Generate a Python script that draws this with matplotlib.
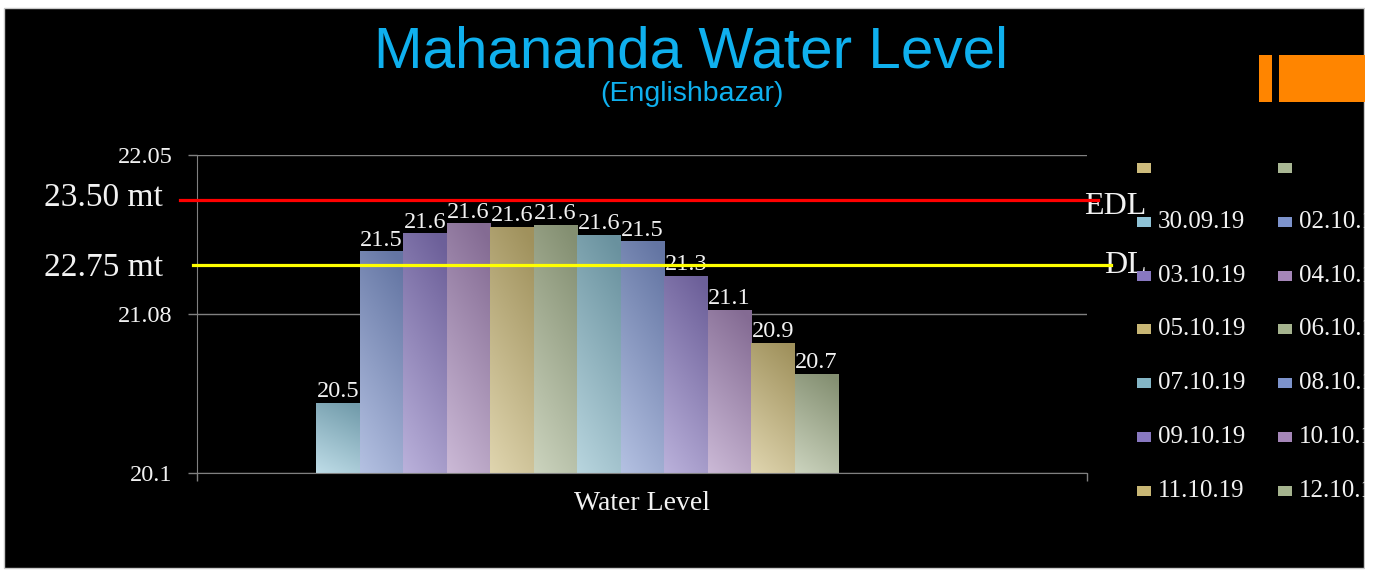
import numpy as np
import matplotlib
matplotlib.use('Agg')
import matplotlib.pyplot as plt
from matplotlib.patches import Rectangle
from matplotlib.colors import to_rgb

W, H = 1382, 577

# data
dates = ['30.09.19', '02.10.19', '03.10.19', '04.10.19', '05.10.19', '06.10.19',
         '07.10.19', '08.10.19', '09.10.19', '10.10.19', '11.10.19', '12.10.19']
levels = [20.53, 21.46, 21.57, 21.63, 21.61, 21.62, 21.56, 21.52, 21.31, 21.10, 20.90, 20.71]
bar_colors = ['#8fc3d6', '#7d93cc', '#8878c0', '#a586b8', '#c8b674', '#a5b38e',
              '#84b6c6', '#7d93cc', '#8878c0', '#a586b8', '#c8b674', '#a5b38e']
extra_labels = ['', '']  # two unnamed series at the top of the legend
extra_colors = ['#cdbb7c', '#a9b794']
y_ticks = [20.1, 21.075, 22.05]
y_tick_labels = ['20.1', '21.08', '22.05']
ref_labels = ['23.50 mt', '22.75 mt']
ref_tags = ['EDL', 'DL']
ref_colors = ['#ff0000', '#ffff00']
ref_y = [21.775, 21.375]  # where the marker lines sit on the chart scale

serif = 'Liberation Serif'
txt = '#f2f2f2'

def fx(x):
    return x / W

def fy(y):
    return 1 - y / H

fig = plt.figure(figsize=(W / 100, H / 100), dpi=100, facecolor='white')
fig.add_artist(Rectangle((fx(4), fy(568)), fx(1364) - fx(4), fy(8) - fy(568),
                         transform=fig.transFigure, facecolor='black',
                         edgecolor='#c8c8c8', lw=1, zorder=-5))

ax = fig.add_axes([fx(197), fy(473), fx(1087) - fx(197), fy(155) - fy(473)])
ax.set_facecolor('none')

x = np.arange(len(levels))
bars = ax.bar(x, levels, width=1.0, color=bar_colors, zorder=2)

# soft gradient on each bar (darker top, lighter bottom)
vv, hh = np.mgrid[0:1:60j, 0:1:20j]
s = np.clip(0.8 * vv + 0.25 * (1 - hh) - 0.05, 0, 1)
for b, c, v in zip(bars, bar_colors, levels):
    c = np.array(to_rgb(c))
    dark = c * 0.8
    light = c + (1 - c) * 0.42
    img = dark[None, None, :] * (1 - s[..., None]) + light[None, None, :] * s[..., None]
    im = ax.imshow(img, extent=(b.get_x(), b.get_x() + b.get_width(), 20.1, v),
                   aspect='auto', origin='upper', interpolation='bilinear', zorder=2.1)
    im.set_clip_path(b)

ax.set_xlim(-3.24, 17.22)
ax.set_ylim(20.1, 22.05)

for xi, v in zip(x, levels):
    ax.annotate('%.1f' % v, (xi, v), xytext=(0, 0.5), textcoords='offset points',
                ha='center', va='bottom', fontsize=17.5, color=txt, family=serif, zorder=4)

ax.set_yticks(y_ticks)
ax.set_yticklabels(y_tick_labels)
ax.set_xticks(list(ax.get_xlim()))
ax.set_xticklabels(['', ''])
ax.tick_params(axis='y', colors='#808080', labelcolor=txt, labelsize=17.5, length=6.5, width=1, pad=11)
ax.tick_params(axis='x', colors='#808080', length=6, width=1)
for lab in ax.get_yticklabels():
    lab.set_family(serif)
ax.grid(axis='y', color='#808080', lw=1, zorder=0)
for side in ['top', 'right']:
    ax.spines[side].set_visible(False)
for side in ['left', 'bottom']:
    ax.spines[side].set_color('#808080')
ax.set_axisbelow(True)

ax.text(0.5, -0.095, 'Water Level', transform=ax.transAxes, ha='center', va='center',
        fontsize=20, color=txt, family=serif)

# danger level lines
line_ext = [(-0.019, 1.0124), (-0.0045, 1.027)]
label_dy = [1.5, -2]
tag_pos = [(0.997, -5), (1.019, 0)]
for lab, tag, c, ry, (x0, x1), dy, (tx, tdy) in zip(ref_labels, ref_tags, ref_colors, ref_y,
                                                    line_ext, label_dy, tag_pos):
    ax.axhline(ry, x0, x1, color=c, lw=2.3, clip_on=False, zorder=5)
    ax.annotate(lab, (-0.038, ry), xycoords=ax.get_yaxis_transform(), xytext=(0, dy),
                textcoords='offset points', ha='right', va='center', fontsize=24,
                color=txt, family=serif)
    ax.annotate(tag, (tx, ry), xycoords=ax.get_yaxis_transform(), xytext=(0, tdy),
                textcoords='offset points', ha='left', va='center', fontsize=23,
                color=txt, family=serif, zorder=4)

# legend drawn by hand, two columns
leg_labels = extra_labels + dates
leg_colors = extra_colors + bar_colors
for i, (lab, c) in enumerate(zip(leg_labels, leg_colors)):
    row, col = divmod(i, 2)
    yc = 168 + row * 53.8
    xm = 1137 + col * 141
    fig.add_artist(Rectangle((fx(xm), fy(yc + 5)), 14 / W, 10 / H, transform=fig.transFigure,
                             facecolor=c, lw=0))
    fig.text(fx(xm + 21), fy(yc), lab, ha='left', va='center', fontsize=18,
             color=txt, family=serif)

# title
fig.text(fx(691), fy(53), 'Mahananda Water Level', ha='center', va='center',
         fontsize=42, color='#0fb0ee', family='Liberation Sans')
fig.text(fx(692), fy(94), '(Englishbazar)', ha='center', va='center',
         fontsize=20.5, color='#0fb0ee', family='Liberation Sans')

# orange blocks at the top right
fig.add_artist(Rectangle((fx(1259), fy(102)), 13 / W, 47 / H, transform=fig.transFigure,
                         facecolor='#ff8500', lw=0))
fig.add_artist(Rectangle((fx(1279), fy(102)), 86 / W, 47 / H, transform=fig.transFigure,
                         facecolor='#ff8500', lw=0))

# everything right of the slide edge is cut off
fig.add_artist(Rectangle((fx(1365), 0), 1, 1, transform=fig.transFigure,
                         facecolor='white', lw=0, zorder=10))

plt.savefig('out.png', dpi=100, facecolor='white')
